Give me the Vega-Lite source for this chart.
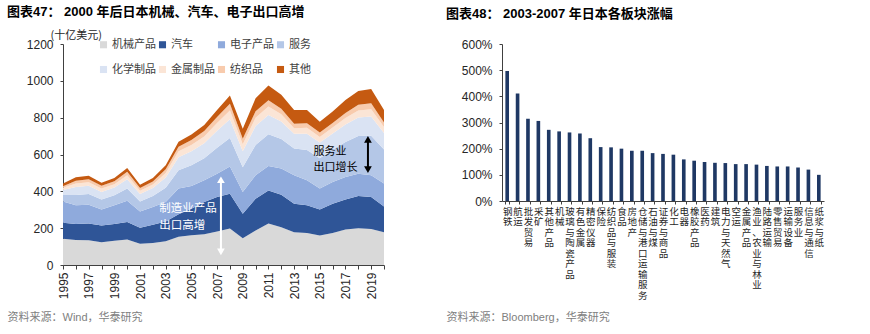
{
  "$schema": "https://vega.github.io/schema/vega-lite/v6.json",
  "background": "white",
  "padding": {"left": 7, "top": 6, "right": 5, "bottom": 5},
  "spacing": 56,
  "config": {
    "font": "Liberation Sans, Noto Sans CJK SC",
    "view": {"stroke": null},
    "axis": {"grid": false, "labelOverlap": false, "domainColor": "#404040", "tickColor": "#404040", "labelColor": "#262626", "labelFont": "Liberation Sans, Noto Sans CJK SC", "labelFontSize": 12, "titleFontWeight": "normal"}
  },
  "hconcat": [
    {
      "width": 321,
      "height": 221,
      "title": {"text": "图表47： 2000 年后日本机械、汽车、电子出口高增", "anchor": "start", "frame": "bounds", "fontSize": 13, "fontWeight": "bold", "color": "#000000", "font": "Liberation Sans, Noto Sans CJK SC", "offset": 10},
      "resolve": {"axis": {"x": "independent", "y": "independent"}},
      "layer": [
        {
          "data": {"values": [
            {"year": 1995, "机械产品": 142, "汽车": 87, "电子产品": 116, "服务": 35, "化学制品": 27, "金属制品": 12, "纺织品": 9, "其他": 15},
            {"year": 1996, "机械产品": 136, "汽车": 86, "电子产品": 102, "服务": 56, "化学制品": 43, "金属制品": 19, "纺织品": 16, "其他": 18},
            {"year": 1997, "机械产品": 134, "汽车": 91, "电子产品": 102, "服务": 58, "化学制品": 45, "金属制品": 19, "纺织品": 17, "其他": 18},
            {"year": 1998, "机械产品": 124, "汽车": 91, "电子产品": 87, "服务": 54, "化学制品": 41, "金属制品": 18, "纺织品": 15, "其他": 17},
            {"year": 1999, "机械产品": 131, "汽车": 91, "电子产品": 102, "服务": 55, "化学制品": 42, "金属制品": 18, "纺织品": 16, "其他": 18},
            {"year": 2000, "机械产品": 138, "汽车": 95, "电子产品": 116, "服务": 66, "化学制品": 51, "金属制品": 22, "纺织品": 19, "其他": 20},
            {"year": 2001, "机械产品": 116, "汽车": 86, "电子产品": 89, "服务": 54, "化学制品": 41, "金属制品": 17, "纺织品": 15, "其他": 18},
            {"year": 2002, "机械产品": 120, "汽车": 98, "电子产品": 97, "服务": 59, "化学制品": 44, "金属制品": 19, "纺织品": 16, "其他": 20},
            {"year": 2003, "机械产品": 129, "汽车": 107, "电子产品": 106, "服务": 77, "化学制品": 56, "金属制品": 25, "纺织品": 20, "其他": 22},
            {"year": 2004, "机械产品": 153, "汽车": 123, "电子产品": 139, "服务": 100, "化学制品": 70, "金属制品": 32, "纺织品": 25, "其他": 27},
            {"year": 2005, "机械产品": 162, "汽车": 143, "电子产品": 124, "服务": 112, "化学制品": 76, "金属制品": 35, "纺织品": 27, "其他": 30},
            {"year": 2006, "机械产品": 167, "汽车": 175, "电子产品": 118, "服务": 120, "化学制品": 81, "金属制品": 37, "纺织品": 29, "其他": 33},
            {"year": 2007, "机械产品": 182, "汽车": 187, "电子产品": 127, "服务": 140, "化学制品": 93, "金属制品": 42, "纺织品": 33, "其他": 38},
            {"year": 2008, "机械产品": 198, "汽车": 189, "电子产品": 148, "服务": 155, "化学制品": 102, "金属制品": 47, "纺织品": 36, "其他": 45},
            {"year": 2009, "机械产品": 145, "汽车": 133, "电子产品": 118, "服务": 135, "化学制品": 87, "金属制品": 37, "纺织品": 30, "其他": 55},
            {"year": 2010, "机械产品": 187, "汽车": 173, "电子产品": 127, "服务": 165, "化学制品": 103, "金属制品": 45, "纺织品": 35, "其他": 70},
            {"year": 2011, "机械产品": 225, "汽车": 179, "电子产品": 134, "服务": 172, "化学制品": 105, "金属制品": 45, "纺织品": 34, "其他": 80},
            {"year": 2012, "机械产品": 205, "汽车": 177, "电子产品": 142, "服务": 160, "化学制品": 95, "金属制品": 40, "纺织品": 30, "其他": 75},
            {"year": 2013, "机械产品": 178, "汽车": 155, "电子产品": 154, "服务": 145, "化学制品": 80, "金属制品": 30, "纺织品": 25, "其他": 75},
            {"year": 2014, "机械产品": 174, "汽车": 150, "电子产品": 136, "服务": 165, "化学制品": 88, "金属制品": 32, "纺织品": 25, "其他": 72},
            {"year": 2015, "机械产品": 160, "汽车": 142, "电子产品": 113, "服务": 165, "化学制品": 85, "金属制品": 30, "纺织品": 25, "其他": 58},
            {"year": 2016, "机械产品": 174, "汽车": 159, "电子产品": 118, "服务": 175, "化学制品": 88, "金属制品": 32, "纺织品": 25, "其他": 62},
            {"year": 2017, "机械产品": 193, "汽车": 163, "电子产品": 122, "服务": 190, "化学制品": 95, "金属制品": 35, "纺织品": 28, "其他": 70},
            {"year": 2018, "机械产品": 200, "汽车": 174, "电子产品": 122, "服务": 205, "化学制品": 100, "金属制品": 38, "纺织品": 31, "其他": 75},
            {"year": 2019, "机械产品": 196, "汽车": 173, "电子产品": 118, "服务": 215, "化学制品": 105, "金属制品": 39, "纺织品": 32, "其他": 78},
            {"year": 2020, "机械产品": 178, "汽车": 140, "电子产品": 124, "服务": 185, "化学制品": 90, "金属制品": 32, "纺织品": 25, "其他": 68}
          ]},
          "transform": [
            {"fold": ["机械产品", "汽车", "电子产品", "服务", "化学制品", "金属制品", "纺织品", "其他"], "as": ["类别", "数值"]},
            {"lookup": "类别", "from": {"data": {"values": [
              {"类别": "机械产品", "序": 1}, {"类别": "汽车", "序": 2}, {"类别": "电子产品", "序": 3}, {"类别": "服务", "序": 4},
              {"类别": "化学制品", "序": 5}, {"类别": "金属制品", "序": 6}, {"类别": "纺织品", "序": 7}, {"类别": "其他", "序": 8}
            ]}, "key": "类别", "fields": ["序"]}}
          ],
          "mark": {"type": "area", "interpolate": "linear"},
          "encoding": {
            "x": {"field": "year", "type": "quantitative", "scale": {"domain": [1995, 2020], "nice": false, "zero": false},
              "axis": {"values": [1995,1996,1997,1998,1999,2000,2001,2002,2003,2004,2005,2006,2007,2008,2009,2010,2011,2012,2013,2014,2015,2016,2017,2018,2019,2020],
                "format": "d", "labelExpr": "datum.value % 2 == 1 ? datum.label : ''", "labelAngle": 270, "labelAlign": "right", "labelBaseline": "middle",
                "labelFlush": false, "labelOverlap": false, "labelSeparation": 0, "tickSize": 4, "labelPadding": 3,
                "title": "资料来源：Wind，华泰研究", "titleAnchor": "start", "titleAlign": "left", "titleBaseline": "middle", "titleX": -56, "titleY": 52,
                "titleColor": "#808080", "titleFontSize": 11, "titleFont": "Liberation Sans, Noto Sans CJK SC"}},
            "y": {"field": "数值", "type": "quantitative", "stack": "zero", "scale": {"domain": [0, 1200], "nice": false},
              "axis": {"values": [0, 200, 400, 600, 800, 1000, 1200], "format": "d", "labelOverlap": false, "tickSize": 3, "labelPadding": 7,
                "title": "(十亿美元)", "titleAngle": 0, "titleX": -13, "titleY": -9, "titleAlign": "left", "titleBaseline": "middle",
                "titleFontSize": 11, "titleColor": "#262626", "titleFont": "Noto Sans CJK SC"}},
            "order": {"field": "序", "type": "quantitative"},
            "color": {"field": "类别", "type": "nominal",
              "scale": {"domain": ["机械产品", "汽车", "电子产品", "服务", "化学制品", "金属制品", "纺织品", "其他"],
                "range": ["#d9d9d9", "#2f5597", "#8faadc", "#b4c7e7", "#dae3f3", "#fbe5d6", "#f8cbad", "#c55a11"]},
              "legend": {"orient": "none", "legendX": 35, "legendY": -5, "columns": 4, "direction": "horizontal", "title": null,
                "symbolType": "square", "symbolSize": 50, "symbolStrokeWidth": 0, "labelFontSize": 11, "labelFont": "Noto Sans CJK SC",
                "labelColor": "#404040", "rowPadding": 13, "columnPadding": 1, "labelOffset": 3, "padding": 0}}
          }
        },
        {
          "data": {"values": [
            {"year": 2002.5, "v": 302, "t": "制造业产品"},
            {"year": 2002.5, "v": 214, "t": "出口高增"}
          ]},
          "mark": {"type": "text", "align": "left", "baseline": "middle", "color": "#ffffff", "fontSize": 11.5, "font": "Noto Sans CJK SC"},
          "encoding": {"x": {"field": "year", "type": "quantitative", "axis": null}, "y": {"field": "v", "type": "quantitative", "axis": null}, "text": {"field": "t"}}
        },
        {
          "data": {"values": [
            {"year": 2014.5, "v": 611, "t": "服务业"},
            {"year": 2014.5, "v": 524, "t": "出口增长"}
          ]},
          "mark": {"type": "text", "align": "left", "baseline": "middle", "color": "#000000", "fontSize": 11, "font": "Noto Sans CJK SC"},
          "encoding": {"x": {"field": "year", "type": "quantitative", "axis": null}, "y": {"field": "v", "type": "quantitative", "axis": null}, "text": {"field": "t"}}
        },
        {
          "data": {"values": [{"year": 2007.3, "v1": 470, "v2": 65}]},
          "mark": {"type": "rule", "color": "#ffffff", "strokeWidth": 2},
          "encoding": {"x": {"field": "year", "type": "quantitative", "axis": null}, "y": {"field": "v1", "type": "quantitative", "axis": null}, "y2": {"field": "v2"}}
        },
        {
          "data": {"values": [{"year": 2007.3, "v": 463}]},
          "mark": {"type": "point", "shape": "triangle-up", "filled": true, "color": "#ffffff", "size": 60, "opacity": 1},
          "encoding": {"x": {"field": "year", "type": "quantitative", "axis": null}, "y": {"field": "v", "type": "quantitative", "axis": null}}
        },
        {
          "data": {"values": [{"year": 2007.3, "v": 71}]},
          "mark": {"type": "point", "shape": "triangle-down", "filled": true, "color": "#ffffff", "size": 60, "opacity": 1},
          "encoding": {"x": {"field": "year", "type": "quantitative", "axis": null}, "y": {"field": "v", "type": "quantitative", "axis": null}}
        },
        {
          "data": {"values": [{"year": 2018.75, "v1": 690, "v2": 510}]},
          "mark": {"type": "rule", "color": "#000000", "strokeWidth": 2},
          "encoding": {"x": {"field": "year", "type": "quantitative", "axis": null}, "y": {"field": "v1", "type": "quantitative", "axis": null}, "y2": {"field": "v2"}}
        },
        {
          "data": {"values": [{"year": 2018.75, "v": 682}]},
          "mark": {"type": "point", "shape": "triangle-up", "filled": true, "color": "#000000", "size": 60, "opacity": 1},
          "encoding": {"x": {"field": "year", "type": "quantitative", "axis": null}, "y": {"field": "v", "type": "quantitative", "axis": null}}
        },
        {
          "data": {"values": [{"year": 2018.75, "v": 518}]},
          "mark": {"type": "point", "shape": "triangle-down", "filled": true, "color": "#000000", "size": 60, "opacity": 1},
          "encoding": {"x": {"field": "year", "type": "quantitative", "axis": null}, "y": {"field": "v", "type": "quantitative", "axis": null}}
        }
      ]
    },
    {
      "width": 322,
      "height": 157,
      "title": {"text": "图表48： 2003-2007 年日本各板块涨幅", "anchor": "start", "frame": "bounds", "fontSize": 13, "fontWeight": "bold", "color": "#000000", "font": "Liberation Sans, Noto Sans CJK SC", "offset": 17},
      "data": {"values": [
        {"板块": "钢铁", "涨幅": 4.97},
        {"板块": "航运", "涨幅": 4.11},
        {"板块": "批发贸易", "涨幅": 3.14},
        {"板块": "采矿", "涨幅": 3.06},
        {"板块": "其他产品", "涨幅": 2.72},
        {"板块": "机械", "涨幅": 2.66},
        {"板块": "玻璃与陶瓷产品", "涨幅": 2.62},
        {"板块": "有色金属", "涨幅": 2.58},
        {"板块": "精密仪器", "涨幅": 2.40},
        {"板块": "保险", "涨幅": 2.06},
        {"板块": "纺织品与服装", "涨幅": 2.05},
        {"板块": "食品", "涨幅": 2.00},
        {"板块": "房地产", "涨幅": 1.92},
        {"板块": "仓储与港口运输服务", "涨幅": 1.92},
        {"板块": "石油与煤", "涨幅": 1.83},
        {"板块": "证券与商品", "涨幅": 1.80},
        {"板块": "化工", "涨幅": 1.77},
        {"板块": "电器", "涨幅": 1.59},
        {"板块": "橡胶产品", "涨幅": 1.54},
        {"板块": "医药", "涨幅": 1.49},
        {"板块": "建筑", "涨幅": 1.46},
        {"板块": "电力与天然气", "涨幅": 1.45},
        {"板块": "空运", "涨幅": 1.41},
        {"板块": "金属产品", "涨幅": 1.41},
        {"板块": "渔业、农业与林业", "涨幅": 1.39},
        {"板块": "陆路运输", "涨幅": 1.34},
        {"板块": "零售贸易", "涨幅": 1.32},
        {"板块": "运输设备", "涨幅": 1.32},
        {"板块": "服务业", "涨幅": 1.28},
        {"板块": "信息与通信", "涨幅": 1.20},
        {"板块": "纸浆与纸", "涨幅": 1.00}
      ]},
      "mark": {"type": "bar", "color": "#1f3864"},
      "encoding": {
        "x": {"field": "板块", "type": "nominal", "sort": null, "scale": {"paddingInner": 0.65, "paddingOuter": 0.325},
          "axis": {"labelAngle": 0, "labelExpr": "split(datum.label, '')", "labelFontSize": 9.5, "labelLineHeight": 10.5, "labelBaseline": "top",
            "labelAlign": "center", "labelFont": "Noto Sans CJK SC", "labelColor": "#262626", "labelOverlap": false, "labelLimit": 0,
            "tickBand": "extent", "tickSize": 3, "labelPadding": 2,
            "title": "资料来源：Bloomberg，华泰研究", "titleAnchor": "start", "titleAlign": "left", "titleBaseline": "middle", "titleX": -56, "titleY": 116,
            "titleColor": "#808080", "titleFontSize": 11, "titleFont": "Liberation Sans, Noto Sans CJK SC"}},
        "y": {"field": "涨幅", "type": "quantitative", "scale": {"domain": [0, 6], "nice": false},
          "axis": {"values": [0, 1, 2, 3, 4, 5, 6], "format": ".0%", "title": null, "tickSize": 3, "labelPadding": 7}}
      }
    }
  ]
}
